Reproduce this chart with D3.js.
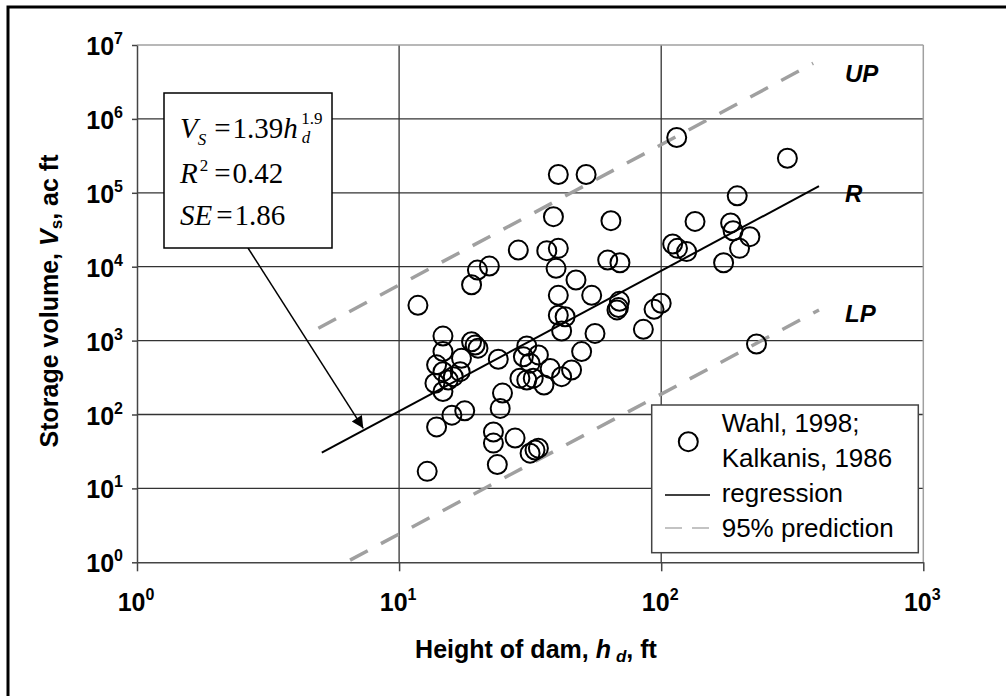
<!DOCTYPE html>
<html lang="en">
<head>
  <meta charset="UTF-8">
  <title>Storage volume vs height of dam</title>
  <script src="https://d3js.org/d3.v7.min.js"></script>
  <style>
    body { margin: 0; background: #fff; }
    text { font-family: "Liberation Sans", Arial, sans-serif; fill: #000; }
    .serif { font-family: "Liberation Serif", "Times New Roman", serif; }
  </style>
</head>
<body>
  <svg width="1006" height="696"></svg>

  <script>
    const width = 1006, height = 696;

    // observed dams: height of dam (ft) and storage volume (ac ft)
    const damHeight = [
      11.8, 18.9, 19.9, 22.1, 14.7, 14.7, 13.9, 14.7, 16.1, 13.7,
      14.7, 17.3, 18.9, 20.0, 19.5, 23.9, 17.1, 15.9, 17.8, 13.9,
      12.8, 24.8, 24.3, 22.9, 22.9, 27.7, 31.6, 33.0, 34.0, 23.7,
      30.7, 29.8, 34.0, 31.6, 37.7, 28.9, 30.7, 32.5, 35.7, 41.7,
      45.5, 49.7, 55.9, 40.5, 40.5, 43.0, 41.7, 47.3, 54.3, 114.6,
      40.5, 51.7, 195, 38.8, 64.3, 134.6, 28.5, 36.6, 40.5, 39.7,
      62.5, 69.6, 110.6, 115.4, 125, 184, 188, 218, 199, 173,
      303, 231, 69.3, 68.7, 67.8, 85.5, 93.9, 100, 15.4
    ];
    const storageVol = [
      3000, 5700, 9000, 10200, 1150, 710, 470, 380, 325, 265,
      205, 575, 965, 790, 870, 560, 380, 98, 112, 68,
      17, 195, 121, 58, 41, 48, 30, 33, 35, 21,
      845, 605, 640, 495, 420, 310, 293, 310, 250, 325,
      400, 710, 1250, 4100, 2200, 2100, 1350, 6600, 4100, 560000,
      177000, 177000, 91000, 47500, 42000, 41000, 16800, 16500, 17700, 9500,
      12300, 11300, 20300, 17700, 16000, 39000, 30700, 25500, 17700, 11300,
      293000, 900, 3400, 2800, 2600, 1420, 2650, 3200, 293
    ];

    // regression and 95% prediction lines (end points)
    const regH = [5.07, 400], regV = [30.4, 122700];
    const upH = [4.92, 380], upV = [1470, 5650000];
    const lpH = [6.5, 400], lpV = [1.07, 2600];

    const xTicks = [1, 10, 100, 1000];
    const xExp = ["0", "1", "2", "3"];
    const yTicks = [1, 10, 100, 1e3, 1e4, 1e5, 1e6, 1e7];
    const yExp = ["0", "1", "2", "3", "4", "5", "6", "7"];

    const legendLabels = ["Wahl, 1998;", "Kalkanis, 1986", "regression", "95% prediction"];

    // arrow points at the regression line here
    const arrowH = 7.3, arrowV = 65;

    const svg = d3.select("svg");

    const plotL = 137, plotR = 923.3, plotT = 45, plotB = 562.3;
    const x = d3.scaleLog().domain([1, 1000]).range([plotL, plotR]);
    const y = d3.scaleLog().domain([1, 1e7]).range([plotB, plotT]);

    // outer frame (runs off the right and bottom edge)
    svg.append("rect")
      .attr("x", 8).attr("y", 7).attr("width", 1010).attr("height", 700)
      .attr("fill", "none").attr("stroke", "#000").attr("stroke-width", 3);

    // grid
    const grid = svg.append("g");
    grid.selectAll("line.h")
      .data(yTicks.slice(1, -1))
      .join("line")
      .attr("class", "h")
      .attr("x1", plotL).attr("x2", plotR)
      .attr("y1", d => y(d)).attr("y2", d => y(d))
      .attr("stroke", "#333").attr("stroke-width", 1.3);
    grid.selectAll("line.v")
      .data(xTicks.slice(1, -1))
      .join("line")
      .attr("class", "v")
      .attr("x1", d => x(d)).attr("x2", d => x(d))
      .attr("y1", plotT).attr("y2", plotB)
      .attr("stroke", "#333").attr("stroke-width", 1.3);

    // top and right borders in light grey
    grid.append("line")
      .attr("x1", plotL).attr("x2", plotR).attr("y1", y(1e7)).attr("y2", y(1e7))
      .attr("stroke", "#a0a0a0").attr("stroke-width", 1.5);
    grid.append("line")
      .attr("x1", x(1000)).attr("x2", x(1000)).attr("y1", plotT).attr("y2", plotB)
      .attr("stroke", "#a0a0a0").attr("stroke-width", 1.5);

    // axes
    const xAxis = svg.append("g")
      .attr("transform", `translate(0,${plotB})`)
      .call(d3.axisBottom(x).tickValues(xTicks).tickSize(9).tickSizeOuter(0).tickFormat(""));
    const yAxis = svg.append("g")
      .attr("transform", `translate(${plotL},0)`)
      .call(d3.axisLeft(y).tickValues(yTicks).tickSize(5).tickSizeOuter(0).tickFormat(""));
    [xAxis, yAxis].forEach(a => {
      a.selectAll("path, line").attr("stroke", "#444").attr("stroke-width", 1.5);
    });

    // tick labels with superscript exponents
    const xl = svg.append("g").selectAll("text")
      .data(xTicks)
      .join("text")
      .attr("x", d => x(d) - 1)
      .attr("y", 611)
      .attr("text-anchor", "middle")
      .attr("font-size", 25)
      .attr("font-weight", "bold");
    xl.append("tspan").text("10");
    xl.append("tspan").attr("dy", -11).attr("font-size", 16).text((d, i) => xExp[i]);

    const yl = svg.append("g").selectAll("text")
      .data(yTicks)
      .join("text")
      .attr("x", 123)
      .attr("y", d => y(d) + 10)
      .attr("text-anchor", "end")
      .attr("font-size", 25)
      .attr("font-weight", "bold");
    yl.append("tspan").text("10");
    yl.append("tspan").attr("dy", -11).attr("font-size", 16).text((d, i) => yExp[i]);

    // axis titles
    const xt = svg.append("text")
      .attr("x", 536).attr("y", 658)
      .attr("text-anchor", "middle")
      .attr("font-size", 25).attr("font-weight", "bold");
    xt.append("tspan").text("Height of dam, ");
    xt.append("tspan").attr("font-style", "italic").text("h");
    xt.append("tspan").attr("font-style", "italic").attr("font-size", 17).attr("dx", 5).attr("dy", 4).text("d");
    xt.append("tspan").attr("dy", -4).text(", ft");

    const yt = svg.append("text")
      .attr("transform", "translate(58,301) rotate(-90)")
      .attr("text-anchor", "middle")
      .attr("font-size", 25).attr("font-weight", "bold");
    yt.append("tspan").text("Storage volume,  ");
    yt.append("tspan").attr("font-style", "italic").text("V");
    yt.append("tspan").attr("font-size", 17).attr("dy", 4).text("s");
    yt.append("tspan").attr("dy", -4).text(",  ac ft");

    // prediction and regression lines
    const line = d3.line().x(d => x(d[0])).y(d => y(d[1]));
    const lines = svg.append("g").attr("fill", "none");
    [[upH, upV], [lpH, lpV]].forEach(([hs, vs]) => {
      lines.append("path")
        .attr("d", line(d3.zip(hs, vs)))
        .attr("stroke", "#a0a0a0").attr("stroke-width", 3.5)
        .attr("stroke-dasharray", "20,15");
    });
    lines.append("path")
      .attr("d", line(d3.zip(regH, regV)))
      .attr("stroke", "#000").attr("stroke-width", 2);

    // data points
    svg.append("g")
      .selectAll("circle")
      .data(d3.zip(damHeight, storageVol))
      .join("circle")
      .attr("cx", d => x(d[0]))
      .attr("cy", d => y(d[1]))
      .attr("r", 9.5)
      .attr("fill", "none")
      .attr("stroke", "#000")
      .attr("stroke-width", 2);

    // line labels
    const tags = svg.append("g")
      .attr("font-size", 24).attr("font-weight", "bold").attr("font-style", "italic");
    tags.append("text").attr("x", 845).attr("y", 82).text("UP");
    tags.append("text").attr("x", 845).attr("y", 202).text("R");
    tags.append("text").attr("x", 845).attr("y", 322).text("LP");

    // equation box and arrow
    svg.append("defs").append("marker")
      .attr("id", "head")
      .attr("viewBox", "0 0 10 10")
      .attr("refX", 10).attr("refY", 5)
      .attr("markerWidth", 19).attr("markerHeight", 12)
      .attr("markerUnits", "userSpaceOnUse")
      .attr("orient", "auto")
      .append("path").attr("d", "M0,0L10,5L0,10Z").attr("fill", "#000");

    const box = { x: 164, y: 93, w: 168, h: 155 };
    svg.append("line")
      .attr("x1", box.x + box.w / 2).attr("y1", box.y + box.h)
      .attr("x2", x(arrowH)).attr("y2", y(arrowV))
      .attr("stroke", "#000").attr("stroke-width", 1.5)
      .attr("marker-end", "url(#head)");
    svg.append("rect")
      .attr("x", box.x).attr("y", box.y).attr("width", box.w).attr("height", box.h)
      .attr("fill", "#fff").attr("stroke", "#000").attr("stroke-width", 1.5);

    const eq = svg.append("g").attr("font-size", 29);
    const l1 = eq.append("text").attr("class", "serif").attr("x", 180).attr("y", 138);
    l1.append("tspan").attr("font-style", "italic").text("V");
    l1.append("tspan").attr("font-style", "italic").attr("font-size", 17).attr("dy", 7).text("S");
    l1.append("tspan").attr("dy", -7).attr("dx", 8).text("=");
    l1.append("tspan").attr("dx", 2).text("1.39");
    l1.append("tspan").attr("font-style", "italic").text("h");
    l1.append("tspan").attr("font-style", "italic").attr("font-size", 17).attr("dx", 4).attr("dy", 5).text("d");
    l1.append("tspan").attr("font-size", 17).attr("dx", -9).attr("dy", -19).text("1.9");

    const l2 = eq.append("text").attr("class", "serif").attr("x", 180).attr("y", 183);
    l2.append("tspan").attr("font-style", "italic").text("R");
    l2.append("tspan").attr("font-size", 17).attr("dx", 2).attr("dy", -12).text("2");
    l2.append("tspan").attr("dy", 12).attr("dx", 6).text("=");
    l2.append("tspan").attr("dx", 2).text("0.42");

    const l3 = eq.append("text").attr("class", "serif").attr("x", 180).attr("y", 225);
    l3.append("tspan").attr("font-style", "italic").text("SE");
    l3.append("tspan").attr("dx", 4).text("=");
    l3.append("tspan").attr("dx", 2).text("1.86");

    // legend
    const lg = svg.append("g");
    lg.append("rect")
      .attr("x", 651.7).attr("y", 405).attr("width", 266.6).attr("height", 147.7)
      .attr("fill", "#fff").attr("stroke", "#444").attr("stroke-width", 1.5);
    lg.append("circle")
      .attr("cx", 688.3).attr("cy", 441.7).attr("r", 9.5)
      .attr("fill", "none").attr("stroke", "#000").attr("stroke-width", 2);
    lg.append("line")
      .attr("x1", 665).attr("x2", 710).attr("y1", 495).attr("y2", 495)
      .attr("stroke", "#000").attr("stroke-width", 1.5);
    lg.append("line")
      .attr("x1", 665).attr("x2", 710).attr("y1", 528).attr("y2", 528)
      .attr("stroke", "#b0b0b0").attr("stroke-width", 1.5)
      .attr("stroke-dasharray", "17,10");
    lg.selectAll("text.lab")
      .data(legendLabels)
      .join("text")
      .attr("class", "lab")
      .attr("x", 721.7)
      .attr("y", (d, i) => 431.7 + i * 35)
      .attr("font-size", 26)
      .text(d => d);
  </script>
</body>
</html>
